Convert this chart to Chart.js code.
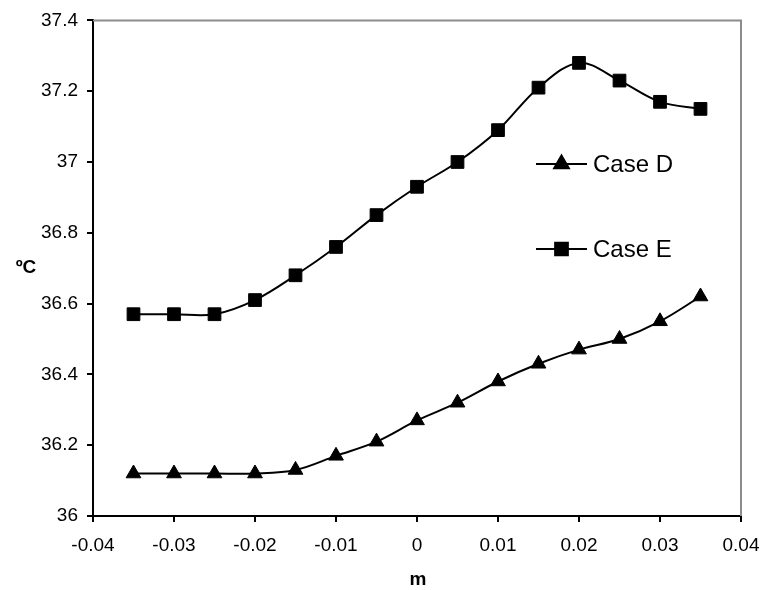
<!DOCTYPE html>
<html>
<head>
<meta charset="utf-8">
<script src="https://cdn.jsdelivr.net/npm/chart.js@4.4.0/dist/chart.umd.min.js"></script>
<style>
  html, body { margin: 0; padding: 0; background: #fff; }
  #wrap { width: 760px; height: 590px; }
</style>
</head>
<body>
<div id="wrap"><canvas id="tempChart"></canvas></div>
<script>
// data
var xValues = [-0.035, -0.03, -0.025, -0.02, -0.015, -0.01, -0.005, 0, 0.005, 0.01, 0.015, 0.02, 0.025, 0.03, 0.035];
var caseD = [36.12, 36.12, 36.12, 36.12, 36.13, 36.17, 36.21, 36.27, 36.32, 36.38, 36.43, 36.47, 36.50, 36.55, 36.62];
var caseE = [36.57, 36.57, 36.57, 36.61, 36.68, 36.76, 36.85, 36.93, 37.00, 37.09, 37.21, 37.28, 37.23, 37.17, 37.15];
var xTicks = [-0.04, -0.03, -0.02, -0.01, 0, 0.01, 0.02, 0.03, 0.04];
var yTicks = [36, 36.2, 36.4, 36.6, 36.8, 37, 37.2, 37.4];
var seriesNames = ["Case D", "Case E"];

function toPoints(ys) {
    return xValues.map(function (x, i) { return { x: x, y: ys[i] }; });
}

var font = "'Liberation Sans', Arial, sans-serif";

// frame, axis titles and legend drawn by hand
var extras = {
    id: "extras",
    afterDraw: function (chart) {
        var ctx = chart.ctx;
        var a = chart.chartArea;
        ctx.save();
        // grey top/right border
        ctx.strokeStyle = "#8c8c8c";
        ctx.lineWidth = 2;
        ctx.beginPath();
        ctx.moveTo(a.left, a.top);
        ctx.lineTo(a.right, a.top);
        ctx.lineTo(a.right, a.bottom);
        ctx.stroke();

        // axis titles
        ctx.fillStyle = "#000";
        ctx.font = "bold 19px " + font;
        ctx.textAlign = "center";
        ctx.textBaseline = "middle";
        ctx.fillText("ºC", 26, 268);
        ctx.fillText("m", 418, 580);

        // legend
        var styles = ["triangle", "rect"];
        var radii = [8.5, 9];
        var rows = [164, 249];
        ctx.font = "24px " + font;
        ctx.textAlign = "left";
        for (var i = 0; i < seriesNames.length; i++) {
            ctx.strokeStyle = "#000";
            ctx.lineWidth = 2;
            ctx.beginPath();
            ctx.moveTo(536, rows[i]);
            ctx.lineTo(587, rows[i]);
            ctx.stroke();
            ctx.fillStyle = "#000";
            Chart.helpers.drawPoint(ctx, { pointStyle: styles[i], radius: radii[i], rotation: 0, borderWidth: 1 }, 561.5, rows[i]);
            ctx.fillStyle = "#000";
            ctx.fillText(seriesNames[i], 593, rows[i] + 1);
        }
        ctx.restore();
    }
};

var ctx = document.getElementById("tempChart").getContext("2d");
var tempChart = new Chart(ctx, {
    type: "line",
    data: {
        datasets: [
            {
                label: seriesNames[0],
                data: toPoints(caseD),
                borderColor: "#000",
                backgroundColor: "#000",
                borderWidth: 2,
                tension: 0.35,
                pointStyle: "triangle",
                pointRadius: 8.5,
                pointBorderWidth: 1,
                fill: false,
            },
            {
                label: seriesNames[1],
                data: toPoints(caseE),
                borderColor: "#000",
                backgroundColor: "#000",
                borderWidth: 2,
                tension: 0.35,
                pointStyle: "rect",
                pointRadius: 9,
                pointBorderWidth: 1,
                fill: false,
            },
        ],
    },
    options: {
        responsive: true,
        maintainAspectRatio: false,
        animation: false,
        devicePixelRatio: 1,
        layout: {
            padding: { top: 16, right: 19, left: 0, bottom: 0 },
        },
        plugins: {
            legend: { display: false },
            tooltip: { enabled: false },
        },
        scales: {
            x: {
                type: "linear",
                min: -0.04,
                max: 0.04,
                afterBuildTicks: function (scale) {
                    scale.ticks = xTicks.map(function (v) { return { value: v }; });
                },
                afterFit: function (scale) {
                    scale.height = 74;
                    scale.paddingLeft = 0;
                    scale.paddingRight = 0;
                },
                grid: {
                    display: true,
                    drawOnChartArea: false,
                    drawTicks: true,
                    tickLength: 6,
                    color: "#000",
                    lineWidth: 2,
                },
                border: { color: "#000", width: 2 },
                ticks: {
                    color: "#000",
                    padding: 12,
                    maxRotation: 0,
                    autoSkip: false,
                    font: { size: 19, family: font },
                    callback: function (v) { return String(Number(v.toFixed(2))); },
                },
            },
            y: {
                type: "linear",
                min: 36,
                max: 37.4,
                afterBuildTicks: function (scale) {
                    scale.ticks = yTicks.map(function (v) { return { value: v }; });
                },
                afterFit: function (scale) {
                    scale.width = 93;
                },
                grid: {
                    display: true,
                    drawOnChartArea: false,
                    drawTicks: true,
                    tickLength: 6,
                    color: "#000",
                    lineWidth: 2,
                },
                border: { color: "#000", width: 2 },
                ticks: {
                    color: "#000",
                    padding: 9,
                    autoSkip: false,
                    font: { size: 19, family: font },
                    callback: function (v) { return String(Number(v.toFixed(1))); },
                },
            },
        },
    },
    plugins: [extras],
});
</script>
</body>
</html>
